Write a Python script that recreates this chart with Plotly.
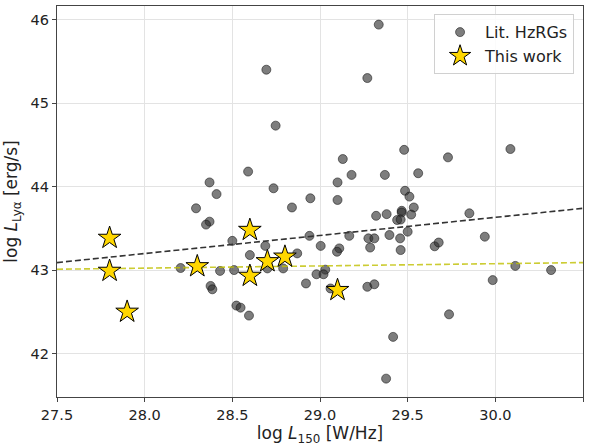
import plotly.graph_objects as go

# Literature high-z radio galaxies: log L150 [W/Hz], log L_Lya [erg/s]
lit_x = [28.59, 28.37, 28.41, 29.335, 28.694, 29.27, 28.747, 29.48, 29.13, 29.18,
         29.37, 29.56, 29.10, 28.735, 28.945, 29.10, 29.485, 29.51, 30.086, 29.73,
         28.293, 28.37, 28.35, 28.50, 28.60, 28.205, 28.43, 28.51, 28.376, 28.386,
         28.523, 28.547, 28.595, 28.84, 29.32, 29.38, 29.466, 29.466, 29.535, 29.52,
         29.44, 29.46, 29.50, 28.94, 29.167, 29.276, 29.31, 29.396, 29.457, 28.688,
         29.004, 29.11, 29.097, 29.286, 29.46, 29.654, 29.677, 28.87, 28.70, 28.79,
         29.03, 28.98, 29.02, 28.92, 29.06, 29.27, 29.31, 29.417, 29.377, 29.852,
         29.94, 30.114, 30.318, 29.985, 29.736]
lit_y = [44.18, 44.05, 43.91, 45.94, 45.40, 45.30, 44.73, 44.44, 44.33, 44.14,
         44.14, 44.16, 44.05, 43.98, 43.86, 43.84, 43.95, 43.88, 44.45, 44.35,
         43.74, 43.58, 43.545, 43.35, 43.18, 43.025, 42.99, 43.00, 42.81, 42.77,
         42.575, 42.55, 42.455, 43.75, 43.65, 43.67, 43.71, 43.69, 43.75, 43.665,
         43.60, 43.605, 43.46, 43.41, 43.41, 43.38, 43.38, 43.42, 43.38, 43.29,
         43.29, 43.26, 43.22, 43.27, 43.24, 43.285, 43.33, 43.20, 43.02, 43.02,
         43.005, 42.95, 42.95, 42.84, 42.78, 42.80, 42.83, 42.20, 41.70, 43.68,
         43.40, 43.05, 43.00, 42.88, 42.47]

# This work
star_x = [27.8, 27.8, 27.9, 28.3, 28.6, 28.6, 28.7, 28.8, 29.1]
star_y = [43.385, 42.99, 42.50, 43.045, 43.48, 42.93, 43.105, 43.16, 42.76]

# Linear fits evaluated across the x range
fit_x = [27.5, 30.5]
lit_fit_y = [43.09, 43.74]
this_fit_y = [43.01, 43.09]

x_ticks = [27.5, 28.0, 28.5, 29.0, 29.5, 30.0, 30.5]
y_ticks = [42, 43, 44, 45, 46]

FONT = "DejaVu Sans"

fig = go.Figure()

fig.add_trace(go.Scatter(
    x=lit_x, y=lit_y, mode="markers", name="Lit. HzRGs",
    marker=dict(size=9, color="rgba(45,45,45,0.62)",
                line=dict(color="rgba(20,20,20,0.55)", width=1)),
))

fig.add_trace(go.Scatter(
    x=fit_x, y=lit_fit_y, mode="lines", showlegend=False, hoverinfo="skip",
    line=dict(color="#333333", width=1.6, dash="6px,3px"),
))
fig.add_trace(go.Scatter(
    x=fit_x, y=this_fit_y, mode="lines", showlegend=False, hoverinfo="skip",
    line=dict(color="rgba(191,191,0,0.8)", width=1.6, dash="6px,3px"),
))

fig.add_trace(go.Scatter(
    x=star_x, y=star_y, mode="markers", name="This work",
    marker=dict(symbol="star", size=17, color="#FFD700",
                line=dict(color="black", width=1)),
))

axis_common = dict(
    showline=True, linecolor="#444444", linewidth=1.2, mirror=True,
    ticks="outside", ticklen=4, tickwidth=1, tickcolor="#444444",
    showgrid=True, gridcolor="#e3e3e3", gridwidth=1,
    zeroline=False,
    tickfont=dict(family=FONT, size=14.5, color="#222222"),
)

fig.update_xaxes(
    range=[27.5, 30.5], tickvals=x_ticks,
    ticktext=[f"{v:.1f}" for v in x_ticks],
    title=dict(text="log <i>L</i><sub>150</sub> [W/Hz]",
               font=dict(family=FONT, size=17, color="#222222"), standoff=6),
    **axis_common,
)
fig.update_yaxes(
    range=[41.48, 46.163], tickvals=y_ticks,
    ticktext=[str(v) for v in y_ticks],
    title=dict(text="log <i>L</i><sub>Lyα</sub> [erg/s]",
               font=dict(family=FONT, size=17, color="#222222"), standoff=8),
    **axis_common,
)

fig.update_layout(
    width=599, height=446,
    margin=dict(l=57, r=16, t=6, b=49),
    paper_bgcolor="white", plot_bgcolor="white",
    font=dict(family=FONT, color="#222222"),
    legend=dict(
        x=0.983, y=0.979, xanchor="right", yanchor="top",
        bgcolor="rgba(255,255,255,0.85)", bordercolor="#d0d0d0", borderwidth=1,
        font=dict(family=FONT, size=16, color="#222222"),
        itemwidth=40,
    ),
)

fig.write_html("out.html")
